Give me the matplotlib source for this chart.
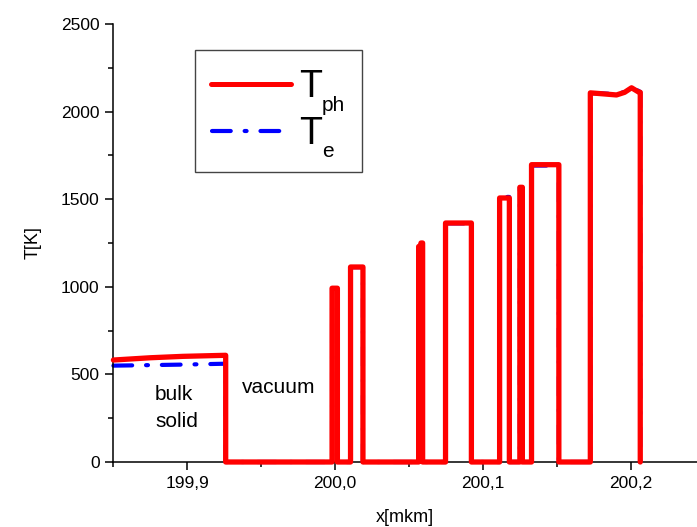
import matplotlib
matplotlib.use("Agg")
import matplotlib.pyplot as plt
from matplotlib.lines import Line2D
from matplotlib.patches import Rectangle
from matplotlib.ticker import FixedLocator

plt.rcParams['font.family'] = ['Liberation Sans', 'DejaVu Sans']
plt.rcParams['lines.scale_dashes'] = False

# ---- data ----
x_pts = [199.85, 199.875, 199.897, 199.926, 199.926,
         199.998, 199.998, 200.0016, 200.0016,
         200.0105, 200.0105, 200.0189, 200.0189,
         200.0566, 200.0566, 200.0578, 200.0582, 200.0593, 200.0593,
         200.0748, 200.0748, 200.0923, 200.0923,
         200.1114, 200.1114, 200.1180, 200.1180,
         200.1251, 200.1251, 200.1268, 200.1268,
         200.1330, 200.1330, 200.1515, 200.1515,
         200.1728, 200.1728, 200.1790, 200.1905, 200.1960, 200.2007, 200.2050, 200.2066, 200.2066]
T_ph = [582, 595, 603, 609, 0,
        0, 992, 992, 0,
        0, 1113, 1113, 0,
        0, 1230, 1230, 1250, 1250, 0,
        0, 1364, 1364, 0,
        0, 1507, 1507, 0,
        0, 1568, 1568, 0,
        0, 1697, 1697, 0,
        0, 2107, 2103, 2095, 2110, 2136, 2114, 2110, 0]
T_e = [550, 553, 556, 561, 0,
       0, 990, 990, 0,
       0, 1112, 1112, 0,
       0, 1228, 1228, 1248, 1248, 0,
       0, 1362, 1362, 0,
       0, 1513, 1513, 0,
       0, 1566, 1566, 0,
       0, 1692, 1692, 0,
       0, 2105, 2104, 2100, 2112, 2128, 2120, 2112, 0]

xticks = [199.9, 200.0, 200.1, 200.2]
xticklabels = ['199,9', '200,0', '200,1', '200,2']
xminor = [199.85, 199.95, 200.05, 200.15, 200.25]
yticks = [0, 500, 1000, 1500, 2000, 2500]
yminor = [250, 750, 1250, 1750, 2250]

W, H = 697, 527
fig = plt.figure(figsize=(W / 100, H / 100), dpi=100)
ax = fig.add_axes([113.4 / W, (H - 462) / H, (W - 113.4) / W, (462 - 24) / H])

red = '#ff0000'
blue = '#0000ff'
dash = (0, (13.5, 10, 1.4, 10))

ax.plot(x_pts, T_e, color=blue, lw=3.0, linestyle=dash, dash_capstyle='round',
        solid_joinstyle='round', clip_on=False, zorder=2)
ax.plot(x_pts, T_ph, color=red, lw=3.8, solid_joinstyle='round',
        solid_capstyle='round', clip_on=False, zorder=3)

ax.set_xlim(199.85, 200.245)
ax.set_ylim(0, 2500)

for s in ['top', 'right']:
    ax.spines[s].set_visible(False)
for s in ['left', 'bottom']:
    ax.spines[s].set_linewidth(1.1)

ax.xaxis.set_major_locator(FixedLocator(xticks))
ax.set_xticklabels(xticklabels)
ax.xaxis.set_minor_locator(FixedLocator(xminor))
ax.yaxis.set_major_locator(FixedLocator(yticks))
ax.yaxis.set_minor_locator(FixedLocator(yminor))
ax.tick_params(which='major', direction='out', length=6, width=1.1,
               labelsize=12.5, pad=4)
ax.tick_params(which='minor', direction='out', length=3.3, width=1.1)

ax.set_xlabel('x[mkm]', fontsize=13, labelpad=13)
ax.set_ylabel('T[K]', fontsize=13, labelpad=14)

# annotations
def fpx(x, y):
    return x / W, 1 - y / H

fig.text(*fpx(155, 400), 'bulk', fontsize=15, ha='left', va='baseline')
fig.text(*fpx(155, 427), 'solid', fontsize=15, ha='left', va='baseline')
fig.text(*fpx(241.5, 393), 'vacuum', fontsize=15, ha='left', va='baseline')

# legend (drawn by hand)
lx0, ly0, lx1, ly1 = 195, 50, 362, 172
fig.patches.append(Rectangle(fpx(lx0, ly1), (lx1 - lx0) / W, (ly1 - ly0) / H,
                             transform=fig.transFigure, fill=False,
                             edgecolor='#444444', lw=1.0))
x1, y1 = fpx(211, 84)
x2, _ = fpx(291, 84)
fig.lines.append(Line2D([x1, x2], [y1, y1], transform=fig.transFigure,
                        color=red, lw=3.6, solid_capstyle='round'))
x1, y2 = fpx(212, 130.7)
x2, _ = fpx(280, 130.7)
fig.lines.append(Line2D([x1, x2], [y2, y2], transform=fig.transFigure,
                        color=blue, lw=3.0, linestyle=dash,
                        dash_capstyle='round'))
fig.text(*fpx(299, 96.7), 'T', fontsize=27, ha='left', va='baseline')
fig.text(*fpx(322, 110.7), 'ph', fontsize=15, ha='left', va='baseline')
fig.text(*fpx(299, 144), 'T', fontsize=27, ha='left', va='baseline')
fig.text(*fpx(322, 156.7), 'e', fontsize=15, ha='left', va='baseline')

fig.savefig('out.png', dpi=100)
